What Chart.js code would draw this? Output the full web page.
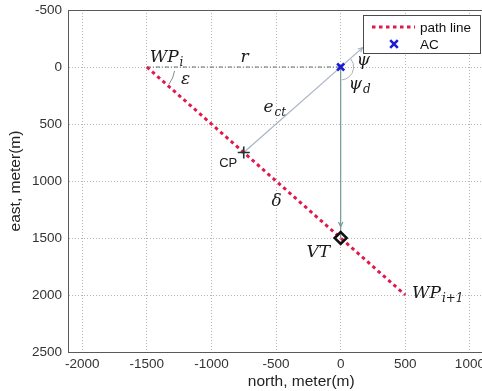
<!DOCTYPE html>
<html>
<head>
<meta charset="utf-8">
<script src="https://cdn.jsdelivr.net/npm/chart.js@4.4.1/dist/chart.umd.min.js"></script>
<style>
  html, body { margin: 0; padding: 0; background: #fff; overflow: hidden; }
  #wrap { width: 543px; height: 391px; }
</style>
</head>
<body>
<div id="wrap"><canvas id="plot" width="543" height="391"></canvas></div>
<script>
// data (north = x, east = y, metres)
const pathX = [-1500, 500];
const pathY = [0, 2000];
const acX = [0];
const acY = [0];
const rX = [-1500, 0];
const rY = [0, 0];
const ectX = [-750, 170];
const ectY = [750, -170];
const downX = [0, 0, 0];
const downY = [0, 1400, 1500];
const cpX = [-750];
const cpY = [750];
const vtX = [0];
const vtY = [1500];

const xTicks = [-2000, -1500, -1000, -500, 0, 500, 1000, 1500];
const yTicks = [-500, 0, 500, 1000, 1500, 2000, 2500];

// text labels on the plot (data coords of the baseline start)
const notes = [
  { x: -1478, y: -45, text: 'WP', sub: 'i' },
  { x: -775, y: -45, text: 'r' },
  { x: -1236, y: 150, text: 'ε' },
  { x: -598, y: 395, text: 'e', sub: 'ct' },
  { x: 125, y: -20, text: 'ψ' },
  { x: 62, y: 190, text: 'ψ', sub: 'd' },
  { x: -940, y: 877, text: 'CP', plain: true },
  { x: -536, y: 1220, text: 'δ' },
  { x: -264, y: 1667, text: 'VT' },
  { x: 552, y: 2026, text: 'WP', sub: 'i+1' }
];

function pts(xs, ys) {
  return xs.map((v, i) => ({ x: v, y: ys[i] }));
}

const datasets = [
  { label: 'VT', data: pts(vtX, vtY), pointStyle: 'rectRot', pointRadius: 6,
    borderColor: '#111', backgroundColor: 'rgba(255,255,255,0)', pointBorderWidth: 2.5 },
  { label: 'CP', data: pts(cpX, cpY), pointStyle: 'cross', pointRadius: 6,
    borderColor: '#1d3434', pointBorderWidth: 1.6 },
  { label: 'AC', data: pts(acX, acY), pointStyle: 'crossRot', pointRadius: 5,
    borderColor: '#1c1cd6', backgroundColor: '#1c1cd6', pointBorderWidth: 2.6, inLegend: true },
  { label: 'path line', data: pts(pathX, pathY), showLine: true, pointRadius: 0,
    borderColor: '#e0184c', borderWidth: 3, borderDash: [3.5, 3.5], inLegend: true },
  { label: 'ect', data: pts(ectX, ectY), showLine: true, pointRadius: 0,
    borderColor: '#a9b3c6', borderWidth: 1.2, arrowAt: 1 },
  { label: 'down', data: pts(downX, downY), showLine: true, pointRadius: 0,
    borderColor: '#6e9c9c', borderWidth: 1.2, arrowAt: 1 },
  { label: 'r', data: pts(rX, rY), showLine: true, pointRadius: 0,
    borderColor: '#666', borderWidth: 1, borderDash: [4, 2, 1, 2] }
];

const decor = {
  id: 'decor',
  afterDatasetsDraw(chart) {
    const ctx = chart.ctx;
    const xs = chart.scales.x, ys = chart.scales.y;
    const area = chart.chartArea;
    ctx.save();
    // top box edge
    ctx.strokeStyle = '#5a5a5a';
    ctx.lineWidth = 1;
    ctx.beginPath();
    ctx.moveTo(area.left, area.top + 0.5);
    ctx.lineTo(area.right, area.top + 0.5);
    ctx.stroke();

    // arrow heads
    chart.data.datasets.forEach(ds => {
      if (ds.arrowAt === undefined) return;
      const a = ds.data[ds.arrowAt - 1], b = ds.data[ds.arrowAt];
      const ax = xs.getPixelForValue(a.x), ay = ys.getPixelForValue(a.y);
      const bx = xs.getPixelForValue(b.x), by = ys.getPixelForValue(b.y);
      const ang = Math.atan2(by - ay, bx - ax);
      ctx.strokeStyle = ds.borderColor;
      ctx.lineWidth = 1.2;
      ctx.beginPath();
      ctx.moveTo(bx - 5 * Math.cos(ang - 0.45), by - 5 * Math.sin(ang - 0.45));
      ctx.lineTo(bx, by);
      ctx.lineTo(bx - 5 * Math.cos(ang + 0.45), by - 5 * Math.sin(ang + 0.45));
      ctx.stroke();
    });

    // angle arcs (epsilon at WP_i, psi at AC)
    ctx.strokeStyle = '#8a8a8a';
    ctx.lineWidth = 1;
    ctx.beginPath();
    ctx.arc(xs.getPixelForValue(pathX[0]), ys.getPixelForValue(pathY[0]), 28,
      8 * Math.PI / 180, 38 * Math.PI / 180);
    ctx.stroke();
    ctx.strokeStyle = '#b0b0b0';
    ctx.beginPath();
    ctx.arc(xs.getPixelForValue(acX[0]), ys.getPixelForValue(acY[0]), 13,
      -38 * Math.PI / 180, 85 * Math.PI / 180);
    ctx.stroke();

    // text
    ctx.fillStyle = '#1a1a1a';
    ctx.textBaseline = 'alphabetic';
    notes.forEach(n => {
      const px = xs.getPixelForValue(n.x), py = ys.getPixelForValue(n.y);
      ctx.font = n.plain ? '13px "Liberation Sans"' : 'italic 17px "DejaVu Serif"';
      ctx.fillText(n.text, px, py);
      if (n.sub) {
        const w = ctx.measureText(n.text).width;
        ctx.font = 'italic 12px "DejaVu Serif"';
        ctx.fillText(n.sub, px + w + 1, py + 4);
      }
    });
    ctx.restore();
  },
  afterDraw(chart) {
    // legend box
    const ctx = chart.ctx;
    const items = chart.data.datasets.filter(d => d.inLegend);
    const order = ['path line', 'AC'];
    items.sort((a, b) => order.indexOf(a.label) - order.indexOf(b.label));
    const bx = 363, by = 15, bw = 117, bh = 38;
    ctx.save();
    ctx.fillStyle = '#fff';
    ctx.fillRect(bx, by, bw, bh);
    ctx.strokeStyle = '#4a4a4a';
    ctx.lineWidth = 1;
    ctx.strokeRect(bx + 0.5, by + 0.5, bw, bh);
    items.forEach((d, i) => {
      const yy = by + 12 + i * 17;
      if (d.showLine) {
        ctx.strokeStyle = d.borderColor;
        ctx.lineWidth = d.borderWidth;
        ctx.setLineDash(d.borderDash || []);
        ctx.beginPath();
        ctx.moveTo(bx + 9, yy);
        ctx.lineTo(bx + 52, yy);
        ctx.stroke();
        ctx.setLineDash([]);
      } else {
        ctx.strokeStyle = d.borderColor;
        ctx.lineWidth = d.pointBorderWidth;
        const cx = bx + 31, r = 3.8;
        ctx.beginPath();
        ctx.moveTo(cx - r, yy - r); ctx.lineTo(cx + r, yy + r);
        ctx.moveTo(cx + r, yy - r); ctx.lineTo(cx - r, yy + r);
        ctx.stroke();
      }
      ctx.fillStyle = '#111';
      ctx.font = '13.5px "Liberation Sans"';
      ctx.textBaseline = 'middle';
      ctx.fillText(d.label, bx + 57, yy + 1);
    });
    ctx.restore();
  }
};

const tickFont = { family: 'Liberation Sans', size: 13.5 };
const titleFont = { family: 'Liberation Sans', size: 15.5 };

new Chart(document.getElementById('plot').getContext('2d'), {
  type: 'scatter',
  data: { datasets: datasets },
  options: {
    responsive: false,
    animation: false,
    devicePixelRatio: 1,
    layout: { padding: { top: 10, right: 0, left: 0, bottom: 0 } },
    plugins: { legend: { display: false }, tooltip: { enabled: false } },
    scales: {
      x: {
        type: 'linear',
        min: -2110,
        max: 1500,
        afterBuildTicks: s => { s.ticks = xTicks.map(v => ({ value: v })); },
        afterFit: s => { s.height = 39; s.paddingLeft = 0; s.paddingRight = 0; },
        grid: { color: '#b4b4b4', lineWidth: 1, drawTicks: false },
        border: { color: '#5a5a5a', width: 1, dash: [1, 2] },
        ticks: { color: '#333', font: tickFont, padding: 4, maxRotation: 0, autoSkip: false,
          callback: v => String(v) },
        title: { display: true, text: 'north, meter(m)', color: '#222', font: titleFont, padding: { top: 0, bottom: 0 } }
      },
      y: {
        type: 'linear',
        reverse: true,
        min: -500,
        max: 2500,
        afterBuildTicks: s => { s.ticks = yTicks.map(v => ({ value: v })); },
        afterFit: s => { s.width = 68; s.paddingTop = 0; s.paddingBottom = 0; },
        grid: { color: '#b4b4b4', lineWidth: 1, drawTicks: false },
        border: { color: '#5a5a5a', width: 1, dash: [1, 2] },
        ticks: { color: '#333', font: tickFont, padding: 6, autoSkip: false,
          callback: v => String(v) },
        title: { display: true, text: 'east, meter(m)', color: '#222', font: titleFont, padding: { top: 6, bottom: 0 } }
      }
    }
  },
  plugins: [decor]
});
</script>
</body>
</html>
